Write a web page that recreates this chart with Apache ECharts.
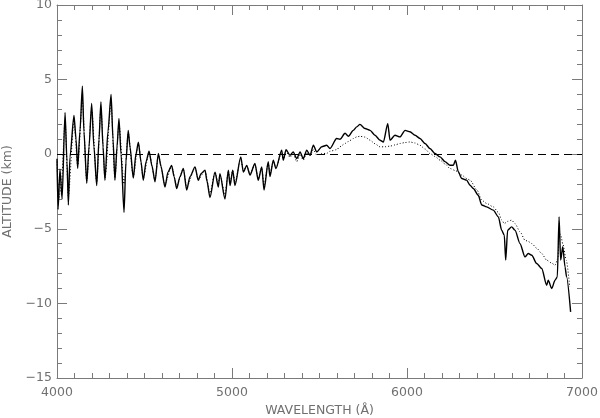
<!DOCTYPE html>
<html>
<head>
<meta charset="utf-8">
<script src="https://cdn.jsdelivr.net/npm/echarts@6/dist/echarts.min.js"></script>
<style>
  html, body { margin: 0; padding: 0; background: #fff; }
  #chart { width: 600px; height: 418px; }
</style>
</head>
<body>
<div id="chart"></div>
<script>
// solid curve (observed)
const solidWl = [4000, 4006, 4017, 4029, 4046, 4057, 4065, 4074, 4097, 4109, 4118, 4131, 4145, 4154, 4170, 4183, 4198, 4211, 4227, 4240,
  4251, 4263, 4274, 4291, 4309, 4320, 4331, 4343, 4354, 4366, 4383, 4394, 4407, 4417, 4436, 4451, 4465, 4480, 4493, 4509,
  4526, 4543, 4560, 4579, 4594, 4617, 4634, 4655, 4669, 4684, 4703, 4722, 4741, 4760, 4789, 4807, 4823, 4846, 4857, 4874,
  4903, 4922, 4931, 4960, 4979, 4989, 5004, 5017, 5050, 5065, 5084, 5103, 5131, 5150, 5170, 5183, 5207, 5217, 5236, 5251,
  5284, 5293, 5309, 5331, 5350, 5370, 5389, 5407, 5427, 5446, 5465, 5484, 5513, 5541, 5560, 5598, 5617, 5646, 5665, 5693,
  5713, 5731, 5760, 5789, 5817, 5846, 5865, 5890, 5903, 5931, 5960, 5989, 6017, 6046, 6074, 6103, 6131, 6160, 6189, 6217,
  6246, 6265, 6277, 6293, 6313, 6341, 6360, 6379, 6407, 6427, 6455, 6493, 6522, 6541, 6556, 6564, 6575, 6598, 6617, 6646,
  6674, 6693, 6713, 6741, 6770, 6798, 6807, 6827, 6846, 6859, 6869, 6878, 6890, 6903, 6912, 6935];
const solidAlt = [-0.3, -3.7, -1.0, -3.0, 2.8, -0.5, -3.4, -0.2, 2.6, 1.0, -0.95, 1.5, 4.55, 1.5, -1.95, 0.5, 3.4, 0.5, -2.1, 1.0,
  3.5, 0.5, -1.75, 1.5, 4.0, 1.0, -1.75, 0.5, 2.4, 0.0, -3.9, -0.5, 1.6, 0.5, -1.6, 0.0, 0.8, -0.5, -1.75, -0.5,
  0.2, -0.8, -1.85, 0.05, -0.8, -2.2, -1.2, -0.75, -1.5, -2.3, -1.5, -0.95, -2.4, -1.5, -0.85, -1.75, -1.3, -1.07, -1.8, -2.9,
  -1.2, -2.2, -1.3, -3.0, -1.07, -2.1, -1.07, -2.1, -0.18, -1.2, -0.75, -1.4, -0.62, -1.75, -0.85, -2.4, -0.5, -1.5, -0.4, -0.96,
  0.27, -0.4, 0.3, -0.07, 0.15, -0.3, 0.15, -0.3, 0.27, -0.07, 0.6, 0.15, 0.5, 0.6, 0.38, 1.05, 1.0, 1.4, 1.2, 1.6,
  1.83, 2.0, 1.72, 1.6, 1.27, 0.94, 0.82, 2.05, 0.94, 1.27, 1.16, 1.6, 1.5, 1.27, 1.05, 0.72, 0.38, 0.05, -0.18, -0.5,
  -0.74, -0.74, -0.4, -1.18, -1.63, -1.74, -2.08, -2.3, -2.75, -3.4, -3.53, -3.75, -4.2, -5.09, -5.43, -7.1, -5.1, -4.87, -5.09, -6.0,
  -6.88, -6.66, -6.77, -7.33, -7.66, -8.78, -8.45, -9.0, -8.45, -8.22, -4.2, -7.1, -6.2, -7.55, -8.22, -10.57];

// dotted curve (model)
const dotWl = [4000, 4010, 4025, 4046, 4065, 4097, 4118, 4145, 4170, 4198, 4227, 4251, 4274, 4309, 4331, 4354, 4383, 4407, 4436, 4465,
  4493, 4526, 4560, 4579, 4617, 4655, 4684, 4722, 4741, 4789, 4807, 4846, 4874, 4903, 4922, 4931, 4960, 4979, 4989, 5004,
  5017, 5050, 5065, 5084, 5103, 5131, 5150, 5170, 5183, 5207, 5217, 5236, 5251, 5284, 5293, 5309, 5331, 5350, 5370, 5389,
  5407, 5427, 5446, 5465, 5484, 5513, 5541, 5560, 5598, 5617, 5646, 5665, 5693, 5713, 5731, 5760, 5789, 5817, 5846, 5875,
  5903, 5931, 5960, 5989, 6017, 6046, 6074, 6103, 6131, 6160, 6189, 6217, 6246, 6277, 6313, 6341, 6360, 6400, 6427, 6455,
  6493, 6522, 6541, 6556, 6575, 6598, 6617, 6646, 6674, 6693, 6713, 6741, 6770, 6798, 6827, 6846, 6862, 6871, 6880, 6890,
  6910, 6930];
const dotAlt = [-0.5, -3.0, -2.0, 2.3, -2.8, 2.3, -0.8, 3.6, -1.8, 3.0, -1.9, 3.1, -1.6, 3.4, -1.6, 2.0, -2.0, 1.4, -1.5, 0.7,
  -1.6, 0.1, -1.7, -0.1, -2.0, -0.8, -2.1, -1.0, -2.2, -0.9, -1.7, -1.1, -2.6, -1.2, -2.0, -1.4, -2.7, -1.1, -1.9, -1.1,
  -1.9, -0.3, -1.1, -0.8, -1.3, -0.7, -1.6, -0.9, -2.1, -0.6, -1.3, -0.5, -0.9, 0.1, -0.4, 0.2, -0.2, 0.0, -0.5, 0.0,
  -0.4, 0.1, -0.1, 0.3, -0.05, 0.05, 0.05, 0.2, 0.3, 0.5, 0.72, 0.85, 1.05, 1.16, 1.2, 1.15, 0.94, 0.7, 0.49, 0.5,
  0.54, 0.62, 0.72, 0.78, 0.82, 0.75, 0.6, 0.35, 0.05, -0.15, -0.4, -0.65, -0.96, -1.1, -1.4, -1.63, -1.74, -2.4, -3.08, -3.3,
  -3.53, -3.9, -4.4, -4.65, -4.5, -4.42, -4.65, -5.2, -5.76, -5.85, -5.99, -6.3, -6.66, -7.1, -7.3, -7.44, -7.0, -5.3, -5.5, -6.0,
  -7.1, -8.9];

const xTicks = [4000, 5000, 6000, 7000];
const yTicks = [-15, -10, -5, 0, 5, 10];

const axisColor = '#7a7a7a';
const labelFont = { color: '#707070', fontFamily: 'DejaVu Sans', fontSize: 12.5 };

function pairs(xs, ys) {
  return xs.map((x, i) => [x, ys[i]]);
}

const chart = echarts.init(document.getElementById('chart'));

const baseX = {
  type: 'value', min: xTicks[0], max: xTicks[xTicks.length - 1], interval: 1000,
  axisLine: { show: true, onZero: false, lineStyle: { color: axisColor, width: 1 } },
  axisTick: { show: true, inside: true, length: 10, lineStyle: { color: axisColor } },
  minorTick: { show: true, splitNumber: 10, length: 5, lineStyle: { color: axisColor } },
  splitLine: { show: false }
};
const baseY = {
  type: 'value', min: yTicks[0], max: yTicks[yTicks.length - 1], interval: 5,
  axisLine: { show: true, onZero: false, lineStyle: { color: axisColor, width: 1 } },
  axisTick: { show: true, inside: true, length: 10, lineStyle: { color: axisColor } },
  minorTick: { show: true, splitNumber: 5, length: 5, lineStyle: { color: axisColor } },
  splitLine: { show: false }
};

const option = {
  animation: false,
  grid: { left: 57, right: 18, top: 5, bottom: 40, containLabel: false, outerBoundsMode: 'none' },
  xAxis: [
    Object.assign({}, baseX, {
      position: 'bottom',
      name: 'WAVELENGTH (Å)', nameLocation: 'middle', nameGap: 25,
      nameTextStyle: labelFont,
      axisLabel: Object.assign({ margin: 8, formatter: v => String(v) }, labelFont)
    }),
    Object.assign({}, baseX, { position: 'top', axisLabel: { show: false } })
  ],
  yAxis: [
    Object.assign({}, baseY, {
      position: 'left',
      name: 'ALTITUDE (km)', nameLocation: 'middle', nameGap: 38,
      nameTextStyle: labelFont,
      axisLabel: Object.assign({
        margin: 5,
        formatter: v => (v < 0 ? '\u2212' + Math.abs(v) : String(v))
      }, labelFont)
    }),
    Object.assign({}, baseY, { position: 'right', axisLabel: { show: false } })
  ],
  series: [
    {
      type: 'line', name: 'dotted', data: pairs(dotWl, dotAlt),
      showSymbol: false, symbol: 'none', smooth: 0.25, smoothMonotone: 'x',
      lineStyle: { color: '#000', width: 1, type: [1, 2] },
      z: 2
    },
    {
      type: 'line', name: 'solid', data: pairs(solidWl, solidAlt),
      showSymbol: false, symbol: 'none', smooth: 0.25, smoothMonotone: 'x',
      lineStyle: { color: '#000', width: 1.4 },
      z: 3,
      markLine: {
        silent: true, symbol: 'none', label: { show: false },
        lineStyle: { color: '#000', width: 1, type: [8, 5] },
        data: [{ yAxis: 0 }]
      }
    }
  ]
};

chart.setOption(option);
</script>
</body>
</html>
